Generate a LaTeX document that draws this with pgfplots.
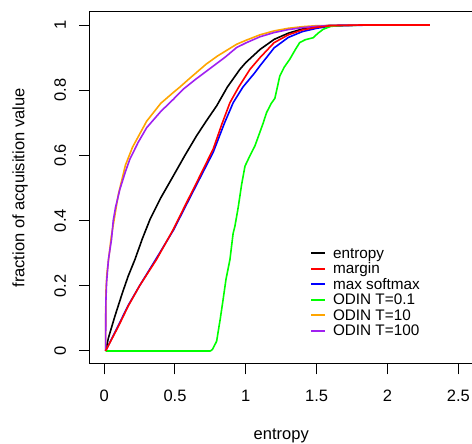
\documentclass[border=0pt]{standalone}
\usepackage{fontspec}
\setmainfont{Liberation Sans}
\usepackage{pgfplots}
\pgfplotsset{compat=1.18}
\definecolor{rorange}{HTML}{FFA500}
\definecolor{rpurple}{HTML}{A020F0}
\newcommand{\lblfont}{\fontsize{16.5}{19}\selectfont}
\newcommand{\legfont}{\fontsize{15.3}{17}\selectfont}
\begin{document}
\begin{tikzpicture}
\useasboundingbox (0,0) rectangle (472pt,444pt);
\clip (0,0) rectangle (472pt,444pt);
\begin{axis}[
  at={(90pt,80pt)}, anchor=south west,
  scale only axis,
  width=382.5pt, height=352pt,
  xmin=-0.1, xmax=2.6,
  ymin=-0.04, ymax=1.04,
  xtick={0,0.5,1,1.5,2,2.5},
  ytick={0,0.2,0.4,0.6,0.8,1},
  xtick pos=bottom, ytick pos=left,
  tick align=outside,
  major tick length=10.5pt,
  axis line style={line width=1pt},
  tick style={line width=1pt, black},
  /pgf/number format/assume math mode=true,
  tick label style={font=\lblfont, inner sep=0pt},
  xticklabel style={anchor=base, yshift=-27pt},
  yticklabel style={rotate=90, anchor=base, yshift=13.5pt},
  label style={font=\lblfont, inner sep=0pt},
  xlabel={entropy},
  ylabel={fraction of acquisition value},
  xlabel style={at={(axis description cs:0.5,0)}, anchor=base, yshift=-75.5pt},
  ylabel style={at={(axis description cs:0,0.5)}, anchor=base, yshift=65.5pt},
  every axis plot/.append style={line width=1.6pt, line join=round, no markers},
  legend style={draw=none, fill=none, at={(axis cs:1.453,0.318)}, anchor=north west,
    inner sep=0pt, font=\legfont, row sep=0pt, column sep=7pt,
    nodes={inner sep=0pt, text height=10.5pt, text depth=5pt},
    cells={anchor=west}},
  legend image code/.code={\draw[#1, line width=1.8pt] (0pt,2pt) -- (14pt,2pt);},
  clip=true,
]
% max softmax
\addplot[blue, forget plot] coordinates {
 (0.01,0) (0.1,0.078) (0.17,0.14) (0.25,0.2) (0.37,0.285) (0.488,0.37)
 (0.57,0.44) (0.652,0.51) (0.711,0.56) (0.77,0.61) (0.85,0.70) (0.911,0.762)
 (0.98,0.81) (1.064,0.854) (1.1,0.875) (1.2,0.93) (1.3,0.962) (1.4,0.98)
 (1.5,0.99) (1.6,0.997) (1.87,1.0)};
% entropy
\addplot[black, forget plot] coordinates {
 (0.01,0) (0.03,0.04) (0.076,0.107) (0.13,0.18) (0.17,0.23) (0.2175,0.281)
 (0.27,0.345) (0.324,0.404) (0.40,0.47) (0.488,0.537) (0.57,0.60) (0.652,0.66)
 (0.72,0.705) (0.794,0.752) (0.87,0.81) (0.958,0.864) (1.0,0.885) (1.05,0.905)
 (1.1,0.925) (1.2,0.956) (1.3,0.975) (1.4,0.988) (1.5,0.995) (1.6,0.999) (1.87,1.0)};
% ODIN T=0.1
\addplot[green, forget plot] coordinates {
 (0.01,0) (0.75,0) (0.765,0.005) (0.794,0.03) (0.82,0.10) (0.84,0.159) (0.86,0.22)
 (0.888,0.281) (0.91,0.36) (0.923,0.383) (0.946,0.44) (0.97,0.51) (0.994,0.567)
 (1.03,0.60) (1.064,0.629) (1.09,0.66) (1.123,0.70) (1.146,0.731) (1.18,0.76)
 (1.205,0.775) (1.24,0.844) (1.27,0.87) (1.31,0.895) (1.35,0.925) (1.38,0.946)
 (1.42,0.955) (1.475,0.961) (1.51,0.975) (1.546,0.987) (1.6,0.996) (1.7,0.999)
 (1.87,1.0)};
% ODIN T=10
\addplot[rorange, forget plot] coordinates {
 (0.01,0) (0.012,0.18) (0.02,0.24) (0.05,0.35) (0.1,0.48) (0.15,0.57) (0.2,0.625)
 (0.275,0.685) (0.30,0.705) (0.4,0.76) (0.488,0.793) (0.535,0.81) (0.6,0.835)
 (0.72,0.88) (0.8,0.905) (0.935,0.941) (1.0,0.953) (1.1,0.97) (1.2,0.982)
 (1.3,0.99) (1.4,0.995) (1.5,0.998) (1.87,1.0)};
% ODIN T=100
\addplot[rpurple, forget plot] coordinates {
 (0.01,0) (0.012,0.15) (0.017,0.21) (0.03,0.28) (0.052,0.343) (0.064,0.40)
 (0.08,0.44) (0.111,0.496) (0.15,0.55) (0.181,0.588) (0.24,0.64) (0.30,0.685)
 (0.4,0.735) (0.488,0.772) (0.558,0.803) (0.65,0.835) (0.77,0.874) (0.85,0.90)
 (0.935,0.931) (1.0,0.945) (1.1,0.964) (1.2,0.977) (1.3,0.986) (1.4,0.992)
 (1.5,0.996) (1.6,0.999) (1.87,1.0)};
% margin
\addplot[red, forget plot] coordinates {
 (0.01,0) (0.1,0.075) (0.17,0.138) (0.25,0.2) (0.37,0.281) (0.488,0.373)
 (0.57,0.445) (0.652,0.516) (0.711,0.568) (0.77,0.62) (0.83,0.695) (0.888,0.762)
 (0.95,0.81) (1.029,0.864) (1.1,0.9) (1.2,0.946) (1.3,0.97) (1.4,0.985)
 (1.5,0.993) (1.6,0.998) (1.8,1.0) (2.30,1.0)};
\addlegendimage{black}\addlegendentry{entropy}
\addlegendimage{red}\addlegendentry{margin}
\addlegendimage{blue}\addlegendentry{max softmax}
\addlegendimage{green}\addlegendentry{ODIN T=0.1}
\addlegendimage{rorange}\addlegendentry{ODIN T=10}
\addlegendimage{rpurple}\addlegendentry{ODIN T=100}
\end{axis}
\end{tikzpicture}
\end{document}
